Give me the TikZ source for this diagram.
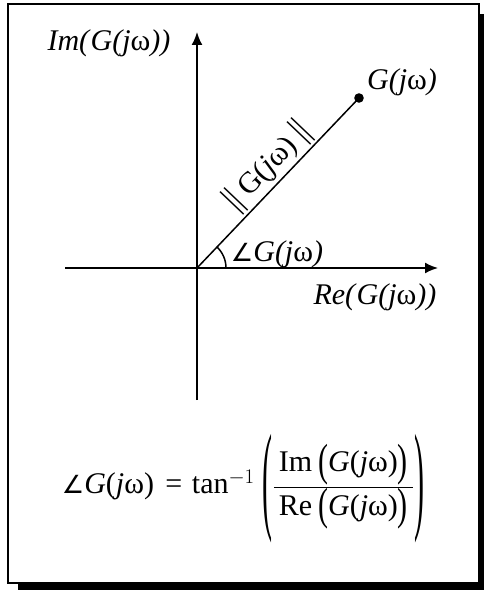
\documentclass[tikz,border=0pt]{standalone}
\usepackage{fontspec}
\usepackage{graphicx}
\setmainfont{Liberation Serif}
\newfontfamily\djv{DejaVu Sans}
\usetikzlibrary{arrows.meta,calc}
\newcommand{\Gjw}{{\itshape G(j{\upshape ω})}}
\newcommand{\Gjf}{\textit{G}(\textit{j}ω)}
\newcommand{\Gjr}{G(\textit{j}ω)}
\newcommand{\ang}{{\fontsize{25}{25}\djv ∠}}
\newcommand{\bigparen}[1]{\raisebox{-24pt}{\scalebox{1.0}[4.0]{#1}}}
\newcommand{\midparen}[1]{\raisebox{-4pt}{\scalebox{1.0}[1.5]{#1}}}
\newcommand{\dbar}{\scalebox{1}[1.2]{||}}
\begin{document}
\begin{tikzpicture}[x=1pt,y=-1pt,
  axis/.style={line width=1.8pt,-{Latex[length=13pt,width=11pt]}},
  lbl/.style={font=\fontsize{30}{34}\selectfont,inner sep=0pt}]
\useasboundingbox (0,0) rectangle (484,593);
% frame with shadow
\fill[black] (18,581) rectangle (484,590);
\fill[black] (477,14) rectangle (484,590);
\draw[line width=2pt,fill=white] (8,4) rectangle (479,583);
% axes
\coordinate (O) at (197,268);
\coordinate (ybot) at (197,400);
\coordinate (ytop) at (197,32);
\coordinate (xl) at (65,268);
\coordinate (xr) at (438,268);
\draw[axis] (ybot) -- (ytop);
\draw[axis] (xl) -- (xr);
% vector
\coordinate (P) at (359,98);
\draw[line width=1.5pt] (O) -- (P);
\fill (P) circle (4.8pt);
% angle arc
\draw[line width=1.5pt] ([xshift=29pt]O) arc[start angle=0,end angle=-46.4,radius=29];
% labels
\node[lbl] (im) at (109,43) {\textit{Im(}\Gjw\textit{)}};
\node[lbl] (g) at (402,82) {\Gjw};
\node[lbl] (angl) at (277,254) {\ang\Gjw};
\node[lbl] (re) at (375,297) {\textit{Re(}\Gjw\textit{)}};
\node[lbl,rotate=46.4,anchor=south] (mag) at ($(O)!0.52!(P)+(-1.5,-1.5)$) {\dbar\ \Gjr\ \dbar};
% formula
\node[lbl,anchor=base] (f) at (243,493) {\ang\Gjf\hspace{4pt} = \hspace{2pt}tan$^{-1}$\hspace{8pt}\bigparen{(}$\displaystyle\frac{\mbox{\,Im\hspace{6pt}\midparen{(}\Gjf\midparen{)}\,}}{\mbox{\,Re\hspace{6pt}\midparen{(}\Gjf\midparen{)}\,}}$\bigparen{)}};
\end{tikzpicture}
\end{document}
